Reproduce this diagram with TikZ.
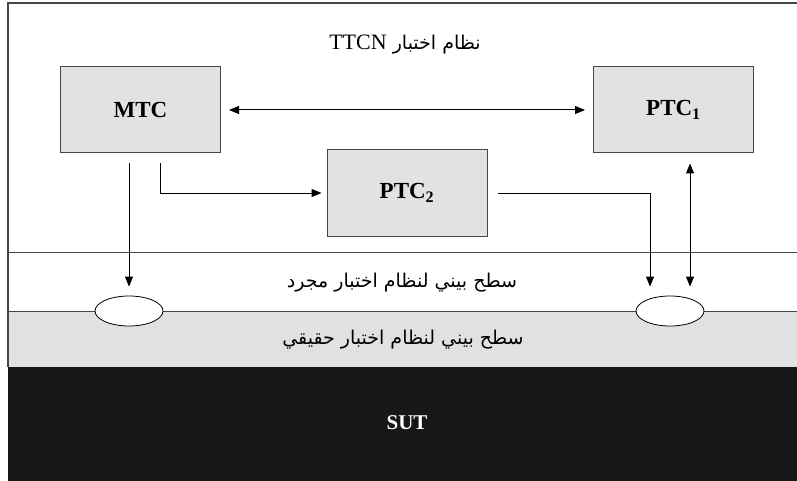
\documentclass[tikz,border=0pt]{standalone}
\usepackage{fontspec}
\setmainfont{Liberation Serif}
\newfontfamily\arabicfont[Script=Arabic]{DejaVu Sans}
\TeXXeTstate=1
\usepackage{tikz}
\usetikzlibrary{
    shapes.geometric,
    arrows.meta,
    positioning,
    calc
}
\definecolor{Cbox}{RGB}{225, 226, 228}
\definecolor{Cline}{RGB}{70, 70, 72}
\definecolor{Cband}{RGB}{224, 225, 227}
\definecolor{Csut}{RGB}{22, 23, 25}
\tikzset{
    tcbox/.style={
        rectangle, draw=Cline, line width=1.0pt, fill=Cbox,
        minimum width=160pt, minimum height=86pt, inner sep=0pt,
        font=\fontsize{23}{25}\selectfont\bfseries
    },
    port/.style={
        ellipse, draw=black, line width=0.8pt, fill=white,
        minimum width=68pt, minimum height=30pt, inner sep=0pt
    },
    artext/.style={font=\arabicfont\fontsize{19}{22}\selectfont},
    tarr/.style={-{Triangle[length=10pt, width=8pt]}, line width=1.0pt, black},
    tdarr/.style={{Triangle[length=10pt, width=8pt]}-{Triangle[length=10pt, width=8pt]}, line width=1.0pt, black},
}

\begin{document}
\begin{tikzpicture}[x=1pt, y=-1pt]
    \useasboundingbox (0,0) rectangle (797,481);

    % ── layers ───────────────────────────────────────────
    \fill [Cband] (8,311) rectangle (797,367);
    \fill [Csut] (8,367) rectangle (797,481);
    \draw [Cline, line width=1.2pt] (797,3) -- (8,3) -- (8,367);
    \draw [Cline, line width=0.8pt] (8,252) -- (797,252);
    \draw [Cline, line width=0.8pt] (8,311) -- (797,311);

    \node [artext] (title) at (405,45) {\beginR نظام اختبار \beginL{\rmfamily\fontsize{22}{24}\selectfont TTCN}\endL\endR};
    \node [artext] (abstract) at (402,283) {\beginR سطح بيني لنظام اختبار مجرد\endR};
    \node [artext] (real) at (403,340) {\beginR سطح بيني لنظام اختبار حقيقي\endR};
    \node [font=\fontsize{21}{24}\selectfont\bfseries, text=white] (sut) at (407,423) {SUT};

    % ── test components ──────────────────────────────────
    \node [tcbox] (mtc) at (140.5,110) {MTC};
    \node [tcbox, right=372pt of mtc] (ptc1) {PTC\textsubscript{1}};
    \node [tcbox] (ptc2) at ($(mtc)!0.5!(ptc1)+(0,83)$) {PTC\textsubscript{2}};

    \node [port] (portL) at (129,311) {};
    \node [port] (portR) at (670,311) {};
    \coordinate (pR) at ($(portR.north)+(20,0)$);

    % ── arrows ───────────────────────────────────────────
    \draw [tdarr, shorten <=8pt, shorten >=8pt] (mtc) -- (ptc1);
    \draw [tarr, shorten <=10pt, shorten >=9pt] (portL.north |- mtc.south) -- (portL.north);
    \draw [tarr, shorten <=10pt, shorten >=5pt] ($(mtc.south)+(20,0)$) |- (ptc2.west);
    \draw [tarr, shorten <=10pt, shorten >=9pt] (ptc2.east) -| ($(portR.north)+(-20,0)$);
    \draw [tdarr, shorten <=9pt, shorten >=10pt] (pR) -- (pR |- ptc1.south);

\end{tikzpicture}
\end{document}
